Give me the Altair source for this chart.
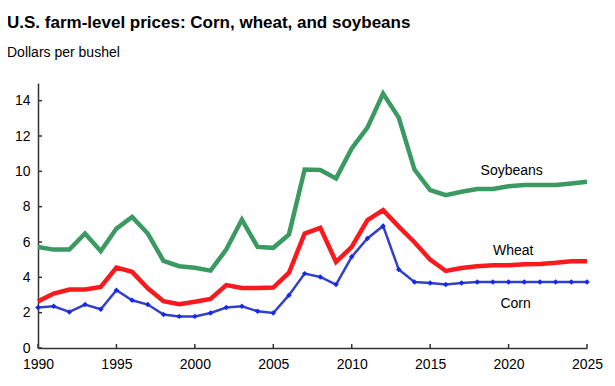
import altair as alt
import pandas as pd

years = list(range(1990, 2026))
soybeans = [5.72, 5.57, 5.57, 6.48, 5.48, 6.76, 7.42, 6.48, 4.93, 4.63, 4.54, 4.38,
            5.57, 7.27, 5.72, 5.67, 6.43, 10.10, 10.07, 9.60, 11.30, 12.47, 14.40, 13.04,
            10.10, 8.94, 8.65, 8.84, 9.00, 9.00, 9.16, 9.22, 9.22, 9.22, 9.31, 9.41]
wheat = [2.64, 3.08, 3.31, 3.31, 3.46, 4.55, 4.31, 3.38, 2.65, 2.48, 2.62, 2.78,
         3.56, 3.40, 3.40, 3.42, 4.26, 6.48, 6.80, 4.87, 5.72, 7.24, 7.80, 6.87,
         5.99, 5.00, 4.36, 4.53, 4.63, 4.69, 4.69, 4.74, 4.76, 4.82, 4.91, 4.91]
corn = [2.29, 2.36, 2.04, 2.46, 2.19, 3.27, 2.70, 2.46, 1.89, 1.79, 1.79, 1.98,
        2.29, 2.36, 2.08, 1.98, 2.99, 4.21, 4.02, 3.59, 5.16, 6.20, 6.91, 4.44,
        3.74, 3.68, 3.59, 3.68, 3.74, 3.74, 3.74, 3.74, 3.74, 3.74, 3.74, 3.74]

label_names = ["Soybeans", "Wheat", "Corn"]
label_x = [2020.2, 2020.3, 2020.45]
label_y = [10.0, 5.5, 2.49]

x_ticks = [1990, 1995, 2000, 2005, 2010, 2015, 2020, 2025]
y_ticks = [0, 2, 4, 6, 8, 10, 12, 14]

FONT = "Liberation Sans"

df = pd.DataFrame({"year": years, "Soybeans": soybeans, "Wheat": wheat, "Corn": corn})
labels = pd.DataFrame({"name": label_names, "x": label_x, "y": label_y})
xt = pd.DataFrame({"v": x_ticks})
yt = pd.DataFrame({"v": y_ticks})

xs = alt.Scale(domain=[1990, 2025], nice=False, zero=False)
ys = alt.Scale(domain=[0, 15], nice=False)

X_axis = alt.Axis(values=x_ticks, format="d", title=None, grid=False,
                  tickSize=0, labelPadding=9, labelFontSize=14, labelFont=FONT, labelColor="#000",
                  labelFlush=False, labelOverlap=False, labelBound=False,
                  domainColor="#333", domainWidth=1.5)
Y_axis = alt.Axis(values=y_ticks, title=None, grid=False, tickSize=0, labelPadding=8,
                  labelFontSize=14, labelFont=FONT, labelColor="#000",
                  labelFlush=False, labelOverlap=False, labelBound=False,
                  domainColor="#333", domainWidth=1.5)


def xe(field):
    return alt.X(field, scale=xs, axis=X_axis)


def ye(field):
    return alt.Y(field, scale=ys, axis=Y_axis)


base = alt.Chart(df)
soy = base.mark_line(color="#3a9a62", strokeWidth=4.5).encode(
    x=xe("year:Q"), y=ye("Soybeans:Q"))
wht = base.mark_line(color="#fa1a1e", strokeWidth=4.5).encode(
    x=xe("year:Q"), y=ye("Wheat:Q"))
crn = base.mark_line(color="#3340c8", strokeWidth=2.5).encode(
    x=xe("year:Q"), y=ye("Corn:Q"))
crn_pts = base.mark_point(shape="diamond", filled=True, color="#1428f0", size=30, opacity=1).encode(
    x=xe("year:Q"), y=ye("Corn:Q"))

txt = alt.Chart(labels).mark_text(font=FONT, fontSize=14, color="#000", align="center",
                                  baseline="middle").encode(
    x=xe("x:Q"), y=ye("y:Q"), text="name:N")

xtick = alt.Chart(xt).mark_rule(color="#333", strokeWidth=1.5).encode(
    x=xe("v:Q"), y=alt.value(265), y2=alt.value(261))
ytick = alt.Chart(yt).mark_rule(color="#333", strokeWidth=1.5).encode(
    y=ye("v:Q"), x=alt.value(0), x2=alt.value(4))

chart = alt.layer(soy, wht, crn, crn_pts, txt, xtick, ytick).properties(
    width=549, height=265,
    padding={"left": 30, "top": 75, "right": 20, "bottom": 30},
    autosize=alt.AutoSizeParams(type="none"),
    title=alt.TitleParams(
        text="U.S. farm-level prices: Corn, wheat, and soybeans",
        subtitle="Dollars per bushel",
        anchor="start", frame="group", dx=-31, offset=22,
        font=FONT, fontSize=17, fontWeight="bold", color="#000",
        subtitleFont=FONT, subtitleFontSize=14, subtitleColor="#000", subtitlePadding=14),
).configure_view(stroke=None)

chart.save("out.html", embed_options={"renderer": "svg", "actions": False})
